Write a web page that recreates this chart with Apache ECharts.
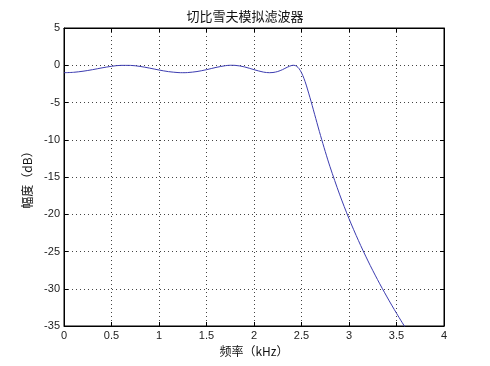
<!DOCTYPE html>
<html>
<head>
<meta charset="utf-8">
<script src="https://cdn.jsdelivr.net/npm/echarts@6/dist/echarts.min.js"></script>
<style>html,body{margin:0;padding:0;background:#fff;}#c{width:490px;height:366px;}</style>
</head>
<body>
<div id="c"></div>
<script>
// Frequency (kHz) and magnitude (dB) values
const freqKHz = [0, 0.1, 0.2, 0.3, 0.4, 0.5, 0.6, 0.7, 0.8, 0.9, 1.0, 1.1, 1.2, 1.25, 1.3, 1.4, 1.5, 1.6, 1.7, 1.75, 1.8, 1.9, 2.0, 2.1, 2.165, 2.2, 2.25, 2.3, 2.35, 2.4, 2.42, 2.45, 2.475, 2.5, 2.525, 2.55, 2.6, 2.65, 2.7, 2.75, 2.8, 2.9, 3.0, 3.1, 3.2, 3.3, 3.4, 3.5, 3.6];
const magDB = [-1.0, -0.949, -0.803, -0.592, -0.352, -0.139, -0.015, -0.019, -0.154, -0.383, -0.639, -0.857, -0.983, -1.0, -0.983, -0.845, -0.594, -0.293, -0.056, -0.004, -0.014, -0.223, -0.594, -0.921, -1.0, -0.974, -0.840, -0.588, -0.267, -0.019, -0.003, -0.144, -0.465, -1.0, -1.742, -2.663, -4.827, -7.14, -9.42, -11.58, -13.62, -17.30, -20.59, -23.55, -26.27, -28.77, -31.10, -33.29, -35.36];
const xTickLabels = ['0', '0.5', '1', '1.5', '2', '2.5', '3', '3.5', '4'];
const yTickLabels = ['-35', '-30', '-25', '-20', '-15', '-10', '-5', '0', '5'];
const titleText = '切比雪夫模拟滤波器';
const xName = '频率（kHz）';
const yName = '幅度（dB）';

const chart = echarts.init(document.getElementById('c'), null, {renderer: 'canvas'});
const fontFam = '"Liberation Sans", Arial, "Noto Sans CJK SC", sans-serif';
const labelStyle = {color: '#222', fontSize: 11, fontFamily: fontFam};
const dotted = {show: true, lineStyle: {color: '#444', width: 1, type: [1, 3]}};

chart.setOption({
  backgroundColor: '#fff',
  animation: false,
  title: {
    text: titleText, left: 'center', top: 5,
    textStyle: {fontSize: 13, fontWeight: 'normal', color: '#111', fontFamily: '"Noto Sans CJK SC", sans-serif'}
  },
  grid: {left: 64, right: 46, top: 28, bottom: 40, show: true, borderColor: '#000', borderWidth: 1, backgroundColor: '#fff'},
  xAxis: [{
    type: 'value', min: 0, max: 4, interval: 0.5, position: 'bottom',
    name: xName, nameLocation: 'middle', nameGap: 19,
    nameTextStyle: {fontSize: 12, color: '#111', fontFamily: '"Noto Sans CJK SC", sans-serif'},
    axisLine: {show: true, onZero: false, lineStyle: {color: '#000'}},
    axisTick: {show: true, inside: true, length: 4, lineStyle: {color: '#000'}},
    axisLabel: Object.assign({margin: 4, formatter: (v) => xTickLabels[Math.round(v / 0.5)]}, labelStyle),
    splitLine: dotted
  }, {
    type: 'value', min: 0, max: 4, interval: 0.5, position: 'top',
    axisLine: {show: true, onZero: false, lineStyle: {color: '#000'}},
    axisTick: {show: true, inside: true, length: 4, lineStyle: {color: '#000'}},
    axisLabel: {show: false}, splitLine: {show: false}
  }],
  yAxis: [{
    type: 'value', min: -35, max: 5, interval: 5, position: 'left',
    name: yName, nameLocation: 'middle', nameGap: 28, nameRotate: 90,
    nameTextStyle: {fontSize: 12, color: '#111', fontFamily: '"Noto Sans CJK SC", sans-serif'},
    axisLine: {show: true, onZero: false, lineStyle: {color: '#000'}},
    axisTick: {show: true, inside: true, length: 4, lineStyle: {color: '#000'}},
    axisLabel: Object.assign({margin: 4, formatter: (v) => yTickLabels[Math.round((v + 35) / 5)]}, labelStyle),
    splitLine: dotted
  }, {
    type: 'value', min: -35, max: 5, interval: 5, position: 'right',
    axisLine: {show: true, onZero: false, lineStyle: {color: '#000'}},
    axisTick: {show: true, inside: true, length: 4, lineStyle: {color: '#000'}},
    axisLabel: {show: false}, splitLine: {show: false}
  }],
  series: [{
    type: 'line', xAxisIndex: 0, yAxisIndex: 0,
    data: freqKHz.map((f, i) => [f, magDB[i]]),
    smooth: 0.3, showSymbol: false, clip: true,
    lineStyle: {color: '#3c3cb0', width: 1}
  }]
});
</script>
</body>
</html>
